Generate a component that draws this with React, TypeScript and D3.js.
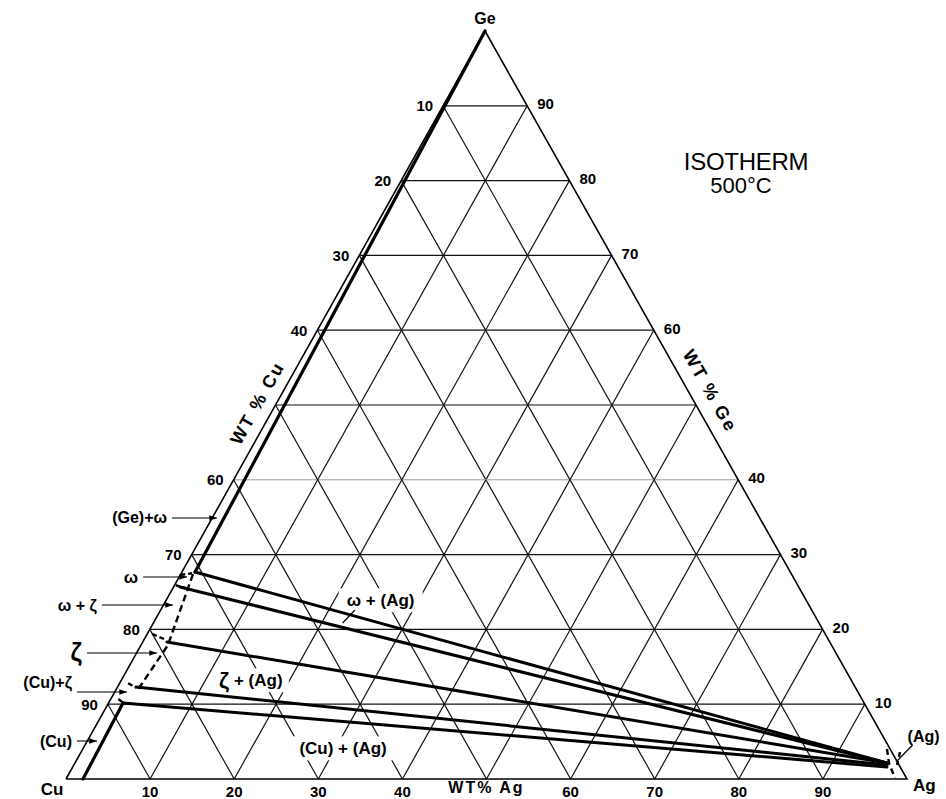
import React from 'react';
import * as d3 from 'd3';

const W = 946;
const H = 799;

// corners of the composition triangle
const CU = { x: 66, y: 779 };
const AG = { x: 907, y: 779 };
const GE = { x: 485, y: 31 };

const gridLevels = [10, 20, 30, 40, 50, 60, 70, 80, 90];
const cuTicks = [10, 20, 30, 40, 60, 70, 80, 90];
const geTicks = [90, 80, 70, 60, 40, 30, 20, 10];
const agTicks = [10, 20, 30, 40, 60, 70, 80, 90];

// phase boundaries as [wt% Ag, wt% Ge]
const geOmegaBoundary: number[][] = [[0, 100], [1.56, 27.67]];
const cuSolvus: number[][] = [[1.72, 10.16], [2.02, 0]];
const binaryBoundary: number[][] = [[1.45, 27.4], [3.2, 17.9], [2.6, 11.9]];
const omegaEdges: number[][][] = [
  [[0.1, 27.3], [1.3, 27.5]],
  [[0.15, 25.9], [1.55, 25.5]],
];
const zetaEdge: number[][] = [[0.57, 19.4], [2.63, 18.6]];
const cuZetaEdges: number[][][] = [
  [[1.0, 12.8], [2.3, 12.2]],
  [[0.9, 10.7], [1.7, 10.2]],
];
const agSolvus: number[][] = [[95.62, 4.01], [96.79, 2.14], [98.5, 0.13]];
const agSolvus2: number[][] = [[97.37, 3.61], [97.88, 1.87]];

// tie lines to the (Ag) solid solution
const tieFrom: number[][] = [[1.56, 27.67], [0.77, 25.67], [2.88, 18.32], [2.2, 12.3], [1.72, 10.16]];
const tieTo: number[][] = [[96.55, 2.14], [96.55, 2.14], [96.55, 2.14], [96.69, 1.87], [96.82, 1.6]];

// labelled phase fields inside the triangle
const fieldNames = ['ω + (Ag)', 'ζ + (Ag)', '(Cu) + (Ag)'];
const fieldAg = [25.5, 15.4, 30.9];
const fieldGe = [23.9, 13.2, 4.1];
const fieldBoxW = [84, 76, 100];

// phase fields along the Cu–Ge side, pointed at with arrows
const sideNames = ['(Ge)+ω', 'ω', 'ω + ζ', 'ζ', '(Cu)+ζ', '(Cu)'];
const sideAg = [0.57, 0.94, 1.13, 2.43, 1.46, 1.15];
const sideGe = [34.9, 27.0, 23.26, 16.84, 11.63, 5.08];

const FONT = '"Liberation Sans", Arial, sans-serif';

export default function App() {
  const agX = d3.scaleLinear().domain([0, 100]).range([0, AG.x - CU.x]);
  const geX = d3.scaleLinear().domain([0, 100]).range([0, GE.x - CU.x]);
  const geY = d3.scaleLinear().domain([0, 100]).range([CU.y, GE.y]);
  const px = (ag: number, ge: number) => CU.x + agX(ag) + geX(ge);
  const py = (_ag: number, ge: number) => geY(ge);
  const line = d3
    .line<number[]>()
    .x((d) => px(d[0], d[1]))
    .y((d) => py(d[0], d[1]));

  const grid: { d: string; faint: boolean }[] = [];
  gridLevels.forEach((k) => {
    grid.push({ d: line([[0, k], [100 - k, k]])!, faint: k === 40 });
    grid.push({ d: line([[k, 0], [k, 100 - k]])!, faint: false });
    grid.push({ d: line([[100 - k, 0], [0, 100 - k]])!, faint: false });
  });

  const outline = line([[0, 0], [100, 0], [0, 100], [0, 0]])!;
  const edgeAngleL = (Math.atan2(GE.y - CU.y, GE.x - CU.x) * 180) / Math.PI;
  const edgeAngleR = (Math.atan2(AG.y - GE.y, AG.x - GE.x) * 180) / Math.PI;

  // arm lengths and text offsets for the side arrows
  const arm = [45, 44, 71, 70, 50, 20];
  const textDy = [0, 0, 0, -1, -10, 0];
  const textSize = [16, 17, 16, 25, 16, 16];

  const dashed = { stroke: '#000', strokeWidth: 2.4, fill: 'none', strokeDasharray: '7,4' } as const;

  return (
    <svg
      width={W}
      height={H}
      viewBox={`0 0 ${W} ${H}`}
      style={{ position: 'absolute', left: 0, top: 0, background: '#fff' }}
      fontFamily={FONT}
    >
      <defs>
        <marker id="ah" viewBox="0 0 10 10" refX="10" refY="5" markerWidth="7" markerHeight="7" orient="auto">
          <path d="M0,1.5 L10,5 L0,8.5 z" fill="#000" />
        </marker>
      </defs>
      <rect width={W} height={H} fill="#fff" />

      {/* grid */}
      {grid.map((g, i) => (
        <path key={i} d={g.d} stroke={g.faint ? '#9a9a9a' : '#111'} strokeWidth={g.faint ? 1 : 1.2} fill="none" />
      ))}
      <path d={outline} stroke="#000" strokeWidth={1.6} fill="none" strokeLinejoin="miter" />

      {/* blank space behind field names */}
      {fieldNames.map((n, i) => (
        <rect
          key={n}
          x={px(fieldAg[i], fieldGe[i]) - fieldBoxW[i] / 2}
          y={py(fieldAg[i], fieldGe[i]) - 12}
          width={fieldBoxW[i]}
          height={24}
          fill="#fff"
        />
      ))}

      {/* tie lines */}
      {tieFrom.map((f, i) => (
        <path key={i} d={line([f, tieTo[i]])!} stroke="#000" strokeWidth={3} fill="none" strokeLinecap="round" />
      ))}

      {/* phase boundaries */}
      <path d={line(geOmegaBoundary)!} stroke="#000" strokeWidth={3.2} fill="none" strokeLinecap="round" />
      <path d={line(cuSolvus)!} stroke="#000" strokeWidth={3.2} fill="none" strokeLinecap="round" />
      <path d={line(binaryBoundary)!} {...dashed} />
      {omegaEdges.map((e, i) => (
        <path key={'o' + i} d={line(e)!} {...dashed} strokeDasharray="4,3" />
      ))}
      <path d={line(zetaEdge)!} {...dashed} strokeDasharray="5,3" />
      {cuZetaEdges.map((e, i) => (
        <path key={'c' + i} d={line(e)!} {...dashed} strokeDasharray="5,3" />
      ))}
      <path d={line(agSolvus)!} {...dashed} strokeDasharray="6,4" />
      <path d={line(agSolvus2)!} {...dashed} strokeDasharray="5,4" />

      {/* tick labels */}
      <g fontSize={15} fontWeight="bold" fill="#000">
        {cuTicks.map((c) => (
          <text key={'l' + c} x={px(0, 100 - c) - 10} y={py(0, 100 - c)} textAnchor="end" dominantBaseline="central">
            {c}
          </text>
        ))}
        {geTicks.map((g) => (
          <text key={'r' + g} x={px(100 - g, g) + 10} y={py(100 - g, g) - 2} textAnchor="start" dominantBaseline="central">
            {g}
          </text>
        ))}
        {agTicks.map((a) => (
          <text key={'b' + a} x={px(a, 0)} y={797} textAnchor="middle">
            {a}
          </text>
        ))}
      </g>

      {/* corner names */}
      <g fontWeight="bold" fill="#000">
        <text x={GE.x} y={GE.y - 7} textAnchor="middle" fontSize={16}>Ge</text>
        <text x={CU.x - 14} y={795} textAnchor="middle" fontSize={17}>Cu</text>
        <text x={AG.x + 6} y={791} textAnchor="start" fontSize={17}>Ag</text>
      </g>

      {/* axis titles */}
      <g fontWeight="bold" fill="#000" fontSize={18} letterSpacing={2}>
        <text
          transform={`translate(${px(0, 50) - 18},${py(0, 50) - 2}) rotate(${edgeAngleL})`}
          textAnchor="middle"
          dominantBaseline="central"
        >
          WT % Cu
        </text>
        <text
          transform={`translate(${px(50, 50) + 14},${py(50, 50) - 14}) rotate(${edgeAngleR})`}
          textAnchor="middle"
          dominantBaseline="central"
        >
          WT % Ge
        </text>
        <text x={px(50, 0)} y={793} textAnchor="middle" fontSize={16}>
          WT% Ag
        </text>
      </g>

      {/* title */}
      <text x={746} y={170} textAnchor="middle" fontSize={24} fill="#000" letterSpacing={-0.3}>
        ISOTHERM
      </text>
      <text x={741} y={193} textAnchor="middle" fontSize={22} fill="#000">
        500°C
      </text>

      {/* field names */}
      <g fontWeight="bold" fontSize={17} fill="#000">
        {fieldNames.map((n, i) => (
          <text key={n} x={px(fieldAg[i], fieldGe[i])} y={py(fieldAg[i], fieldGe[i])} textAnchor="middle" dominantBaseline="central">
            {n.startsWith('ζ') ? (
              <>
                <tspan fontSize={22}>ζ</tspan>
                {n.slice(1)}
              </>
            ) : (
              n
            )}
          </text>
        ))}
      </g>
      <path d={line([[23.1, 22.59], [22.5, 20.86]])!} stroke="#000" strokeWidth={1.2} fill="none" />

      {/* side arrows */}
      {sideNames.map((n, i) => {
        const tx = px(sideAg[i], sideGe[i]);
        const ty = py(sideAg[i], sideGe[i]);
        return (
          <g key={n}>
            <line x1={tx - arm[i]} y1={ty} x2={tx} y2={ty} stroke="#000" strokeWidth={1.1} markerEnd="url(#ah)" />
            <text
              x={tx - arm[i] - 5}
              y={ty + textDy[i]}
              textAnchor="end"
              dominantBaseline="central"
              fontWeight="bold"
              fontSize={textSize[i]}
              fill="#000"
            >
              {n}
            </text>
          </g>
        );
      })}

      {/* (Ag) solid solution */}
      <line x1={px(98.4, 4.55)} y1={py(98.4, 4.55)} x2={px(97.56, 2.27)} y2={py(97.56, 2.27)} stroke="#000" strokeWidth={1.2} />
      <text x={px(98.4, 4.55) - 5} y={py(98.4, 4.55) - 3} fontWeight="bold" fontSize={16} fill="#000">
        (Ag)
      </text>
    </svg>
  );
}
